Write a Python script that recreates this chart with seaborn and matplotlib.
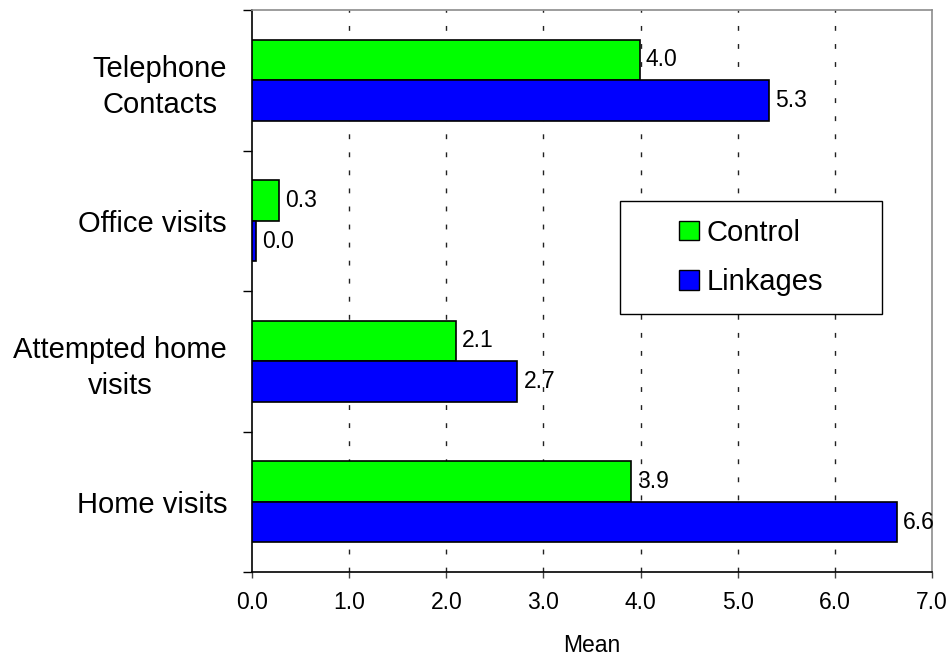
import matplotlib
matplotlib.use("Agg")
import matplotlib.pyplot as plt
from matplotlib.patches import Patch, Rectangle
import pandas as pd
import seaborn as sns

# Mean number of contacts per client, by contact type and study arm
categories = ["Telephone\nContacts", "Office visits", "Attempted home\nvisits", "Home visits"]
control = [3.99, 0.28, 2.10, 3.90]
linkages = [5.32, 0.04, 2.73, 6.64]
groups = ["Control", "Linkages"]
group_colors = ["#00FF00", "#0000FF"]
x_ticks = [0, 1, 2, 3, 4, 5, 6, 7]

df = pd.DataFrame({
    "category": categories * 2,
    "group": [groups[0]] * len(categories) + [groups[1]] * len(categories),
    "mean": control + linkages,
})

sns.set_style("white")
plt.rcParams["font.family"] = ["Liberation Sans", "DejaVu Sans"]
plt.rcParams.update({
    "text.color": "black",
    "axes.labelcolor": "black",
    "xtick.color": "black",
    "ytick.color": "black",
})

fig = plt.figure(figsize=(9.5, 6.56), dpi=100)
ax = fig.add_axes([252 / 950, 1 - 572 / 656, 680 / 950, 562 / 656])

sns.barplot(
    data=df, x="mean", y="category", hue="group", orient="h",
    order=categories, hue_order=groups, palette=group_colors,
    saturation=1, width=0.577, edgecolor="black", linewidth=1.2,
    legend=False, ax=ax, zorder=3,
)

# value labels at the end of each bar
for container in ax.containers:
    ax.bar_label(container, fmt="%.1f", padding=4.5, fontsize=16.5, color="black")

# x axis
ax.set_xlim(0, 7)
ax.set_xticks(x_ticks, [f"{v:.1f}" for v in x_ticks])
ax.tick_params(axis="x", direction="out", length=4.3, width=1, color="#444444",
               labelcolor="black", labelsize=16.5, pad=9.5, bottom=True)
ax.set_xlabel("Mean", fontsize=16.5, labelpad=14, color="black")

# y axis: tick marks between categories, labels centred on each group
ax.set_ylim(3.5, -0.5)
ax.set_yticks([-0.5, 0.5, 1.5, 2.5, 3.5], [""] * 5)
ax.set_yticks(range(len(categories)), categories, minor=True)
ax.tick_params(axis="y", which="major", direction="out", length=6.5, width=1,
               color="black", left=True)
ax.tick_params(axis="y", which="minor", length=0, pad=18, labelsize=21,
               labelcolor="black", left=True)
for lbl in ax.get_yticklabels(minor=True):
    lbl.set_multialignment("center")
    lbl.set_linespacing(1.35)
ax.set_ylabel("")

# dotted vertical gridlines
for v in x_ticks[1:-1]:
    ax.axvline(v, color="#222222", lw=1.0, linestyle=(0, (3.5, 9.5)), zorder=1)

for side in ("top", "right"):
    ax.spines[side].set_color("#8c8c8c")
    ax.spines[side].set_linewidth(1.2)
for side in ("left", "bottom"):
    ax.spines[side].set_color("black")
    ax.spines[side].set_linewidth(1.2)

# legend box
box_l, box_r = (620 - 252) / 680, (882 - 252) / 680
box_b, box_t = (572 - 314) / 562, (572 - 201) / 562
ax.add_patch(Rectangle((box_l, box_b), box_r - box_l, box_t - box_b,
                       transform=ax.transAxes, facecolor="white",
                       edgecolor="black", lw=1.0, zorder=5))
handles = [Patch(facecolor=c, edgecolor="black", lw=1.0) for c in group_colors]
leg = ax.legend(handles, groups, loc="center",
                bbox_to_anchor=((box_l + box_r) / 2, (box_b + box_t) / 2),
                frameon=False, fontsize=21, handlelength=0.68, handleheight=0.65,
                handletextpad=0.27, labelspacing=0.75, borderpad=0)
for t in leg.get_texts():
    t.set_color("black")
leg.set_zorder(6)

fig.savefig("out.png", dpi=100)
